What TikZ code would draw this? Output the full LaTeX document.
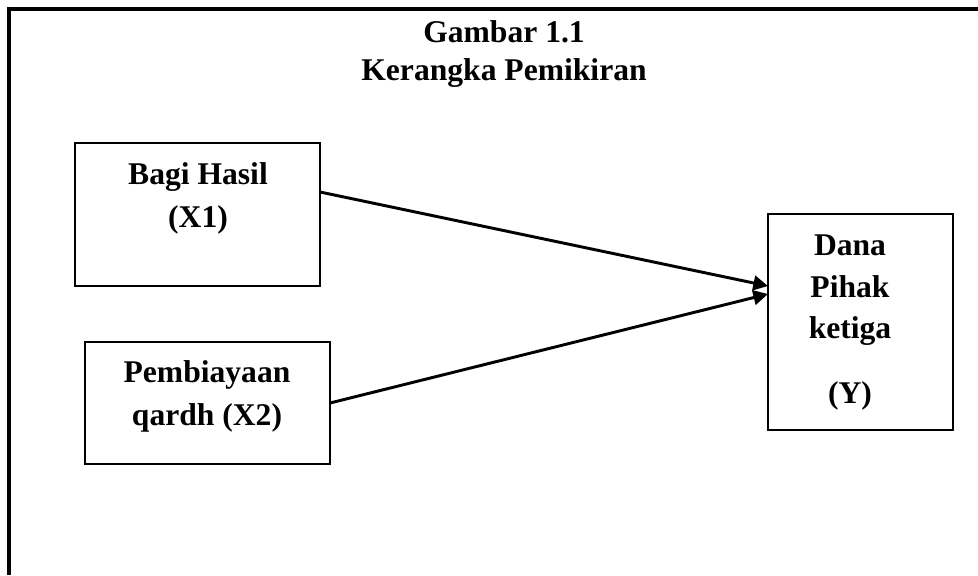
\documentclass[tikz,border=0pt]{standalone}
\usepackage{fontspec}
\setmainfont{Liberation Serif}
\usetikzlibrary{arrows.meta}
\begin{document}
\begin{tikzpicture}[x=0.75pt,y=-0.75pt,
  every node/.style={inner sep=0pt,outer sep=0pt},
  txt/.style={anchor=base,font=\fontsize{23.7}{30}\selectfont\bfseries},
  varbox/.style={draw,line width=1.5pt,anchor=north west},
  link/.style={line width=2.2pt,-{Triangle[length=11pt,width=11pt]}}]
  \useasboundingbox (0,0) rectangle (978,575);
  % outer frame (left and top edges)
  \draw[line width=3pt] (9,575) -- (9,9) -- (978,9);
  % title
  \node[txt] (t1) at (504,42) {Gambar 1.1};
  \node[txt] (t2) at (504,80) {Kerangka Pemikiran};
  % variable boxes
  \node[varbox,minimum width=245*0.75pt,minimum height=143*0.75pt] (b1) at (75,143) {};
  \node[varbox,minimum width=245*0.75pt,minimum height=122*0.75pt] (b2) at (85,342) {};
  \node[varbox,minimum width=185*0.75pt,minimum height=216*0.75pt] (b3) at (768,214) {};
  % box texts
  \node[txt] (l1a) at (198,184) {Bagi Hasil};
  \node[txt] (l1b) at (198,227) {(X1)};
  \node[txt] (l2a) at (207,382) {Pembiayaan};
  \node[txt] (l2b) at (207,425) {qardh (X2)};
  \node[txt] (l3a) at (850,255) {Dana};
  \node[txt] (l3b) at (850,297) {Pihak};
  \node[txt] (l3c) at (850,338) {ketiga};
  \node[txt] (l3d) at (850,403) {(Y)};
  % connectors
  \coordinate (s1) at ([yshift=22.5*0.75pt]b1.east);
  \coordinate (s2) at ([yshift=0pt]b2.east);
  \coordinate (e1) at ([yshift=36*0.75pt]b3.west);
  \coordinate (e2) at ([yshift=28*0.75pt]b3.west);
  \draw[link] (s1) -- (e1);
  \draw[link] (s2) -- (e2);
\end{tikzpicture}
\end{document}
